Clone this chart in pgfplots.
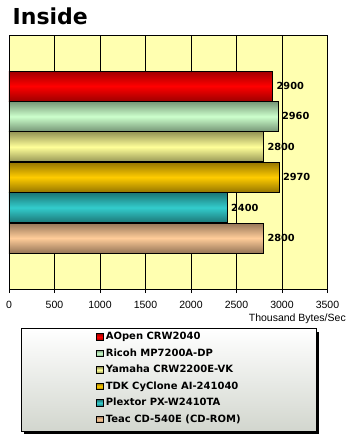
\documentclass[border=0pt]{standalone}
\usepackage{fontspec}
\setmainfont{Liberation Sans}
\newfontfamily\dejavu{DejaVu Sans}
\usepackage{pgfplots}
\pgfplotsset{compat=1.18}

\newcommand\titlefont{\dejavu\bfseries\fontsize{22}{26}\selectfont}
\newcommand\valfont{\dejavu\bfseries\fontsize{9.8}{11}\selectfont}
\newcommand\legfont{\dejavu\bfseries\fontsize{10}{12}\selectfont}
\newcommand\tickfont{\fontsize{10.5}{12}\selectfont}

\definecolor{bgyellow}{RGB}{255,255,176}
\definecolor{legbot}{RGB}{210,214,206}
\definecolor{redM}{RGB}{255,0,0}\definecolor{redE}{RGB}{160,0,0}
\definecolor{ricM}{RGB}{204,255,204}\definecolor{ricE}{RGB}{118,150,118}
\definecolor{yamM}{RGB}{255,255,153}\definecolor{yamE}{RGB}{150,150,86}
\definecolor{tdkM}{RGB}{255,204,0}\definecolor{tdkE}{RGB}{150,118,0}
\definecolor{plxM}{RGB}{51,204,204}\definecolor{plxE}{RGB}{28,118,118}
\definecolor{teaM}{RGB}{255,204,153}\definecolor{teaE}{RGB}{150,118,88}

\pgfplotsset{
  mybar/.style={xbar, bar shift=0pt, bar width=30, draw=black, line width=0.8pt},
  legsq/.style={legend image code/.code={\draw[black,line width=0.6pt,fill=#1] (0pt,-3.3pt) rectangle (6.6pt,3.3pt);}},
}

\begin{document}
\begin{tikzpicture}
\useasboundingbox (0pt,0pt) rectangle (351pt,437pt);
\node[anchor=base west, inner sep=0pt, font=\titlefont] at (12.5pt,412.5pt) {Inside};
\fill[black] (24pt,2.5pt) rectangle (319pt,105pt);
\draw[black, line width=1pt, top color=white, bottom color=legbot] (21pt,5.5pt) rectangle (316pt,108pt);
\begin{axis}[
  at={(9pt,148pt)}, anchor=south west,
  scale only axis, width=318.5pt, height=254pt,
  xmin=0, xmax=3500, ymin=35, ymax=289, y dir=reverse,
  xtick={0,500,...,3500}, ytick=\empty,
  xtick pos=left, tick align=outside, major tick length=4pt,
  xmajorgrids, grid style={black, line width=0.8pt},
  axis line style={black, line width=0.8pt},
  tick style={black, line width=0.8pt},
  axis background/.style={fill=bgyellow},
  scaled x ticks=false,
  /pgf/number format/1000 sep={},
  /pgf/number format/assume math mode=true,
  ticklabel style={font=\tickfont},
  xticklabel style={yshift=-5pt},
  xlabel={Thousand Bytes/Sec},
  xlabel style={at={(axis description cs:1.058,-0.126)}, anchor=base east, inner sep=0pt, font=\tickfont},
  point meta=x,
  nodes near coords,
  nodes near coords style={font=\valfont, text=black, anchor=west},
  legend cell align=left,
  legend style={at={(axis description cs:0.273,-0.1555)}, anchor=north west, draw=none, fill=none,
     inner sep=0pt, row sep=0pt, column sep=2pt,
     font=\legfont,
     nodes={text height=7.5pt, text depth=2pt, inner ysep=3.5pt, inner xsep=0.5pt}},
]
\addplot[mybar, top color=redE, bottom color=redE, middle color=redM, legsq=redM] coordinates {(2900,86)};
\addlegendentry{AOpen CRW2040}
\addplot[mybar, top color=ricE, bottom color=ricE, middle color=ricM, legsq=ricM] coordinates {(2960,116.4)};
\addlegendentry{Ricoh MP7200A-DP}
\addplot[mybar, top color=yamE, bottom color=yamE, middle color=yamM, legsq=yamM] coordinates {(2800,146.8)};
\addlegendentry{Yamaha CRW2200E-VK}
\addplot[mybar, top color=tdkE, bottom color=tdkE, middle color=tdkM, legsq=tdkM] coordinates {(2970,177.2)};
\addlegendentry{TDK CyClone AI-241040}
\addplot[mybar, top color=plxE, bottom color=plxE, middle color=plxM, legsq=plxM] coordinates {(2400,207.6)};
\addlegendentry{Plextor PX-W2410TA}
\addplot[mybar, top color=teaE, bottom color=teaE, middle color=teaM, legsq=teaM] coordinates {(2800,238)};
\addlegendentry{Teac CD-540E (CD-ROM)}
\end{axis}
\end{tikzpicture}
\end{document}
